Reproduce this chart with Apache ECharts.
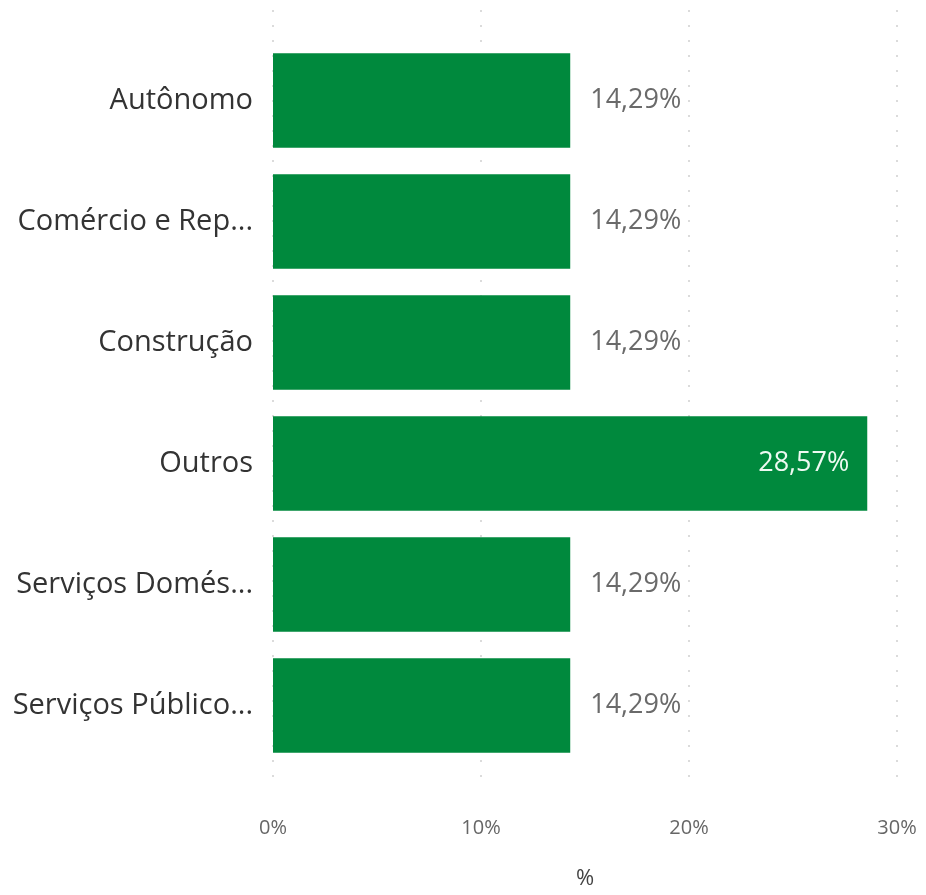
<!DOCTYPE html>
<html>
<head>
<meta charset="utf-8">
<script src="https://cdn.jsdelivr.net/npm/echarts@6/dist/echarts.min.js"></script>
<style>
html,body{margin:0;padding:0;background:#fff;}
#chart{width:926px;height:895px;}
</style>
</head>
<body>
<div id="chart"></div>
<script>
const categories = ["Autônomo", "Comércio e Rep...", "Construção", "Outros", "Serviços Domés...", "Serviços Público..."];
const values = [14.29, 14.29, 14.29, 28.57, 14.29, 14.29];
const xTicks = [0, 10, 20, 30];
const axisName = "%";

const FONT = "'Open Sans', 'Noto Sans', sans-serif";
const fmt = v => v.toFixed(2).replace('.', ',') + '%';
const maxVal = Math.max(...values);

const chart = echarts.init(document.getElementById('chart'));
chart.setOption({
  backgroundColor: '#ffffff',
  animation: false,
  grid: [
    {left: 273, right: 29, top: 40, bottom: 129},
    {left: 273, right: 29, top: 10, bottom: 88}
  ],
  xAxis: [
    {type: 'value', gridIndex: 0, min: xTicks[0], max: xTicks[xTicks.length-1], interval: 10, show: false},
    {type: 'value', gridIndex: 1, min: xTicks[0], max: xTicks[xTicks.length-1], interval: 10,
     axisLine: {show: false}, axisTick: {show: false},
     axisLabel: {formatter: v => v + '%', color: '#666', fontFamily: FONT, fontSize: 20, margin: 30},
     splitLine: {show: true, lineStyle: {color: '#cfcfcf', type: [2, 13], width: 1.5}},
     name: axisName, nameLocation: 'middle', nameGap: 80,
     nameTextStyle: {color: '#444', fontFamily: FONT, fontSize: 22}
    }
  ],
  yAxis: [
    {type: 'category', gridIndex: 0, data: categories, inverse: true,
     axisLine: {show: false}, axisTick: {show: false},
     axisLabel: {color: '#333', fontFamily: FONT, fontSize: 29, margin: 20}},
    {type: 'value', gridIndex: 1, show: false}
  ],
  series: [{
    type: 'bar',
    xAxisIndex: 0, yAxisIndex: 0,
    data: values.map(v => ({
      value: v,
      label: v === maxVal
        ? {position: 'insideRight', distance: 18, color: '#eefaf2'}
        : {position: 'right', distance: 20, color: '#6a6a6a'}
    })),
    barCategoryGap: '22%',
    itemStyle: {color: '#00893d'},
    label: {show: true, formatter: p => fmt(p.value), fontFamily: FONT, fontSize: 27}
  }]
});
</script>
</body>
</html>
